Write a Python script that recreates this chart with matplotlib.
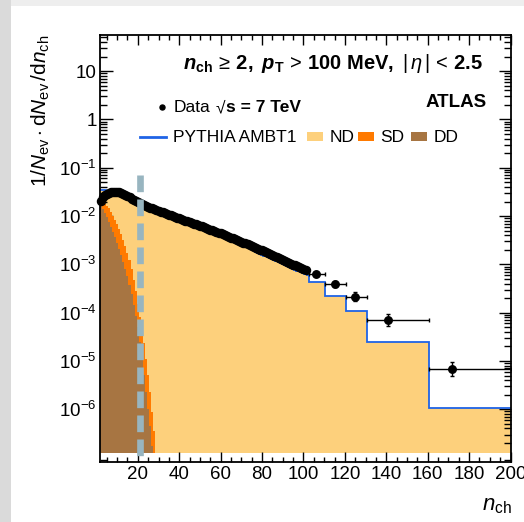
import numpy as np
import matplotlib
matplotlib.use("Agg")
import matplotlib.pyplot as plt
from matplotlib.lines import Line2D
from matplotlib.patches import Rectangle
from matplotlib.ticker import FixedLocator, MultipleLocator, FuncFormatter, LogLocator, NullFormatter

plt.rcParams['font.family'] = ['Liberation Sans', 'DejaVu Sans']
plt.rcParams['mathtext.fontset'] = 'custom'
plt.rcParams['mathtext.rm'] = 'Liberation Sans'
plt.rcParams['mathtext.it'] = 'Liberation Sans:italic'
plt.rcParams['mathtext.bf'] = 'Liberation Sans:bold'
plt.rcParams['mathtext.bfit'] = 'Liberation Sans:bold:italic'
plt.rcParams['mathtext.sf'] = 'Liberation Sans'

# ---------------- data (log10 of 1/Nev dNev/dnch) ----------------
data_n_single = list(range(2, 102))
data_log10 = [
    -1.680, -1.615, -1.568, -1.536, -1.515, -1.503, -1.497, -1.496, -1.500, -1.509,
    -1.522, -1.540, -1.562, -1.587, -1.613, -1.639, -1.665, -1.690, -1.714, -1.737,
    -1.757, -1.776, -1.793, -1.810, -1.826, -1.842, -1.858, -1.874, -1.890, -1.906,
    -1.922, -1.938, -1.954, -1.970, -1.986, -2.002, -2.017, -2.033, -2.048, -2.063,
    -2.079, -2.094, -2.109, -2.124, -2.140, -2.155, -2.170, -2.186, -2.201, -2.216,
    -2.232, -2.248, -2.264, -2.280, -2.296, -2.312, -2.329, -2.345, -2.361, -2.378,
    -2.394, -2.411, -2.428, -2.445, -2.462, -2.479, -2.496, -2.513, -2.531, -2.549,
    -2.567, -2.585, -2.603, -2.621, -2.639, -2.657, -2.675, -2.694, -2.712, -2.731,
    -2.750, -2.769, -2.788, -2.807, -2.826, -2.845, -2.865, -2.884, -2.904, -2.923,
    -2.943, -2.963, -2.983, -3.003, -3.023, -3.043, -3.063, -3.083, -3.103, -3.123,
]
# wide-bin data points
wide_x = [106.0, 115.3, 125.0, 140.8, 171.9]
wide_lo = [102.5, 110.5, 120.5, 130.5, 160.5]
wide_hi = [110.5, 120.5, 130.5, 160.5, 200.0]
wide_log10 = [-3.205, -3.41, -3.67, -4.157, -5.166]
wide_err_dex = [0.04, 0.058, 0.093, 0.12, 0.145]

# PYTHIA AMBT1 total (ND+SD+DD), single bins n = 2..102 then wide bins
mc_log10_single = [
    -1.470, -1.465, -1.470, -1.478, -1.488, -1.498, -1.508, -1.518, -1.529, -1.541,
    -1.554, -1.569, -1.586, -1.606, -1.628, -1.652, -1.677, -1.702, -1.727, -1.750,
    -1.771, -1.790, -1.808, -1.825, -1.842, -1.858, -1.874, -1.890, -1.906, -1.922,
    -1.938, -1.954, -1.970, -1.986, -2.002, -2.018, -2.034, -2.050, -2.065, -2.080,
    -2.096, -2.111, -2.127, -2.142, -2.158, -2.173, -2.189, -2.205, -2.220, -2.236,
    -2.252, -2.268, -2.285, -2.302, -2.319, -2.336, -2.353, -2.370, -2.388, -2.407,
    -2.426, -2.445, -2.464, -2.484, -2.504, -2.524, -2.545, -2.566, -2.587, -2.608,
    -2.629, -2.650, -2.671, -2.692, -2.713, -2.734, -2.755, -2.776, -2.797, -2.817,
    -2.837, -2.857, -2.877, -2.897, -2.917, -2.937, -2.957, -2.976, -2.995, -3.014,
    -3.033, -3.052, -3.071, -3.090, -3.109, -3.128, -3.147, -3.166, -3.186, -3.206,
    -3.226,
]
mc_log10_wide = [-3.37, -3.65, -3.97, -4.61, -5.97]

# SD+DD (cumulative) n = 2..28 and DD n = 2..27
sd_log10 = [-1.66, -1.70, -1.75, -1.79, -1.84, -1.91, -1.99, -2.08, -2.17, -2.26,
            -2.37, -2.49, -2.63, -2.77, -2.92, -3.10, -3.32, -3.56, -3.82, -4.08,
            -4.33, -4.62, -4.95, -5.30, -5.65, -6.05, -6.45]
dd_log10 = [-1.76, -1.85, -1.93, -2.02, -2.12, -2.22, -2.33, -2.44, -2.56, -2.68,
            -2.81, -2.95, -3.09, -3.24, -3.42, -3.62, -3.84, -4.06, -4.30, -4.60,
            -4.95, -5.30, -5.65, -6.00, -6.35, -6.75]

marker_n = 21
y_ticks = [10, 1, 1e-1, 1e-2, 1e-3, 1e-4, 1e-5, 1e-6]
x_ticks = [20, 40, 60, 80, 100, 120, 140, 160, 180, 200]

# ---------------- figure ----------------
W, H = 524, 522
fig = plt.figure(figsize=(W / 100, H / 100), dpi=100)
fig.patch.set_facecolor('#eeeeee')

def fx(x):
    return x / W

def fy(y):
    return 1 - y / H

fig.add_artist(Rectangle((0, 0), fx(11), 1, transform=fig.transFigure,
                         facecolor='#dadada', edgecolor='none', zorder=-20))
fig.add_artist(Rectangle((fx(11), 0), 1 - fx(11), fy(6), transform=fig.transFigure,
                         facecolor='white', edgecolor='none', zorder=-19))

ax = fig.add_axes([fx(99.5), fy(462), fx(510.5) - fx(99.5), fy(35) - fy(462)])
ax.set_yscale('log')
ax.set_xlim(1.5, 200)
ax.set_ylim(8.1e-8, 56)

c_nd = '#FDD07C'
c_sd = '#FF7A00'
c_dd = '#A77542'
c_blue = '#1F63E6'
base = 1.25e-7

edges_single = np.arange(1.5, 103.5, 1.0)
mc_edges = np.concatenate([edges_single, [110.5, 120.5, 130.5, 160.5, 200.0]])
mc_vals = 10 ** np.array(mc_log10_single + mc_log10_wide)
sd_vals = 10 ** np.array(sd_log10)
sd_edges = np.arange(1.5, 1.5 + len(sd_vals) + 1, 1.0)
dd_vals = 10 ** np.array(dd_log10)
dd_edges = np.arange(1.5, 1.5 + len(dd_vals) + 1, 1.0)

ax.stairs(mc_vals, mc_edges, fill=True, baseline=base, color=c_nd, zorder=1)
ax.stairs(sd_vals, sd_edges, fill=True, baseline=base, color=c_sd, zorder=2)
ax.stairs(dd_vals, dd_edges, fill=True, baseline=base, color=c_dd, zorder=3)
ax.stairs(mc_vals, mc_edges, baseline=None, color=c_blue, lw=1.3, zorder=4)

# data
ax.plot(data_n_single, 10 ** np.array(data_log10), 'o', color='black', ms=5.8,
        mec='black', zorder=6, clip_on=False)
wv = 10 ** np.array(wide_log10)
werr = np.array(wide_err_dex)
ylo = wv - wv * 10 ** (-werr)
yhi = wv * 10 ** werr - wv
xlo = np.array(wide_x) - np.array(wide_lo)
xhi = np.array(wide_hi) - np.array(wide_x)
ax.errorbar(wide_x, wv, yerr=[ylo, yhi], xerr=[xlo, xhi], fmt='o', color='black',
            ms=5.4, elinewidth=1.0, capsize=1.6, capthick=1.0, zorder=6)

# gray dashed marker line
ax.plot([marker_n, marker_n], [7.0e-2, 1.07e-7], color='#98B5C0', lw=4.8,
        dashes=(2.5, 1.1), solid_capstyle='butt', dash_capstyle='butt', zorder=7)

# axes style
for s in ax.spines.values():
    s.set_linewidth(1.3)
    s.set_zorder(10)
ax.xaxis.set_major_locator(FixedLocator(x_ticks))
ax.xaxis.set_minor_locator(MultipleLocator(5))
ax.yaxis.set_major_locator(FixedLocator(y_ticks))
ax.yaxis.set_minor_locator(LogLocator(base=10, subs=np.arange(2, 10)))
ax.yaxis.set_minor_formatter(NullFormatter())

def yfmt(v, pos):
    if v >= 9:
        return '10'
    if v >= 0.9:
        return '1'
    e = int(round(np.log10(v)))
    return r'$10^{%d}$' % e

ax.yaxis.set_major_formatter(FuncFormatter(yfmt))
ax.tick_params(which='both', direction='in', top=True, right=True, width=1.0,
               labelsize=13.5, zorder=11)
ax.tick_params(axis='y', which='major', length=9, pad=2)
ax.tick_params(axis='y', which='minor', length=5)
ax.tick_params(axis='x', which='major', length=7, pad=3)
ax.tick_params(axis='x', which='minor', length=3.5)

# axis labels
fig.text(fx(41), fy(35), r'$1/N_{\rm ev}\cdot{\rm d}N_{\rm ev}\,/{\rm d}n_{\rm ch}$',
         rotation=90, ha='center', va='top', fontsize=15)
fig.text(fx(512), fy(510), r'$n_{\rm ch}$', ha='right', va='baseline', fontsize=16)

# header texts
fig.text(fx(483), fy(69.3),
         r'$\mathbfit{n}_{\mathbf{ch}}\,\geq\,\mathbf{2,}\ \mathbfit{p}_{\mathbf{T}}\,>\,\mathbf{100\ MeV,}\ |\,\eta\,|\,<\,\mathbf{2.5}$',
         ha='right', va='baseline', fontsize=14.5)
fig.text(fx(487), fy(106.7), 'ATLAS', ha='right', va='baseline', fontsize=13.5,
         fontweight='bold')

# legend line 1
fig.add_artist(Line2D([fx(161.7)], [fy(106.7)], marker='o', ms=3.6, color='black',
                      transform=fig.transFigure))
fig.text(fx(173.3), fy(112.3), 'Data', ha='left', va='baseline', fontsize=12.5)
fig.text(fx(216), fy(112.3), '\u221a', ha='left', va='baseline', fontsize=12.5)
fig.text(fx(226), fy(112.3), 's = 7 TeV', ha='left', va='baseline', fontsize=12.5,
         fontweight='bold')

# legend line 2
fig.add_artist(Line2D([fx(140), fx(166)], [fy(136.7), fy(136.7)], color=c_blue, lw=2,
                      transform=fig.transFigure))
fig.text(fx(173.3), fy(142.3), 'PYTHIA AMBT1', ha='left', va='baseline', fontsize=12.5)
for x0, col, lab in [(306.7, c_nd, 'ND'), (357.7, c_sd, 'SD'), (410.7, c_dd, 'DD')]:
    fig.add_artist(Rectangle((fx(x0), fy(141)), fx(16.7), 8.7 / H,
                             transform=fig.transFigure, facecolor=col, edgecolor='none'))
    fig.text(fx(x0 + 22.6), fy(142.3), lab, ha='left', va='baseline', fontsize=12.5)

fig.savefig('out.png', dpi=100, facecolor=fig.get_facecolor())
